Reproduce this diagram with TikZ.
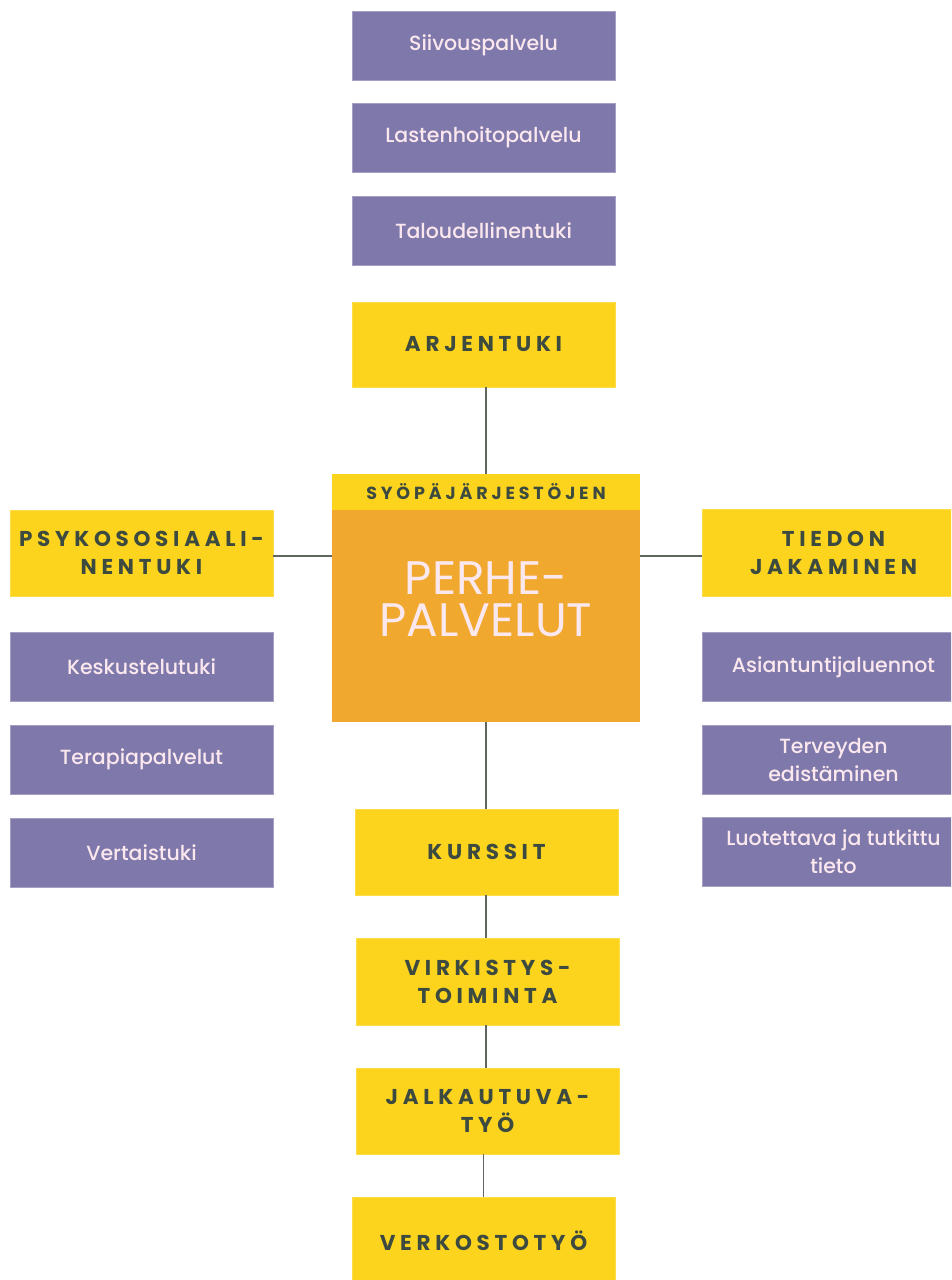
\documentclass[tikz,border=0pt]{standalone}
\usepackage{fontspec}
\setmainfont{Poppins}[UprightFont={* Medium}, BoldFont={* Bold}]
\newfontfamily\ttlfont{Poppins}[LetterSpace=22, BoldFont={* Bold}]
\newfontfamily\regfont{Poppins}
\definecolor{purp}{RGB}{127,120,170}
\definecolor{yel}{RGB}{252,212,30}
\definecolor{orng}{RGB}{240,168,46}
\definecolor{dtxt}{RGB}{60,74,64}
\definecolor{ltxt}{RGB}{251,232,238}
\definecolor{lin}{RGB}{94,102,94}
\tikzset{
  box/.style={rectangle, inner sep=0pt, minimum width=263pt, align=center},
  pbox/.style={box, fill=purp, draw=purp!70!white, line width=0.6pt, minimum height=69pt, text=ltxt, font=\fontsize{20.5}{28}\selectfont},
  ybox/.style={box, fill=yel, draw=yel!80!white, line width=0.6pt, minimum height=86pt, text=dtxt, font=\ttlfont\bfseries\fontsize{21.5}{28}\selectfont},
  bigtitle/.style={inner sep=0pt, text=ltxt, font=\regfont\fontsize{47}{42}\selectfont},
  conn/.style={draw=lin, line width=1.4pt}
}
\begin{document}
\begin{tikzpicture}[x=1pt,y=-1pt]
\useasboundingbox (0,0) rectangle (951,1280);
\clip (0,0) rectangle (951,1280);
% top column
\node[pbox] (s1) at (483.5,45.5) {Siivouspalvelu};
\node[pbox] (s2) at (483.5,137.5) {Lastenhoitopalvelu};
\node[pbox] (s3) at (483.5,230.5) {Taloudellinentuki};
\node[ybox, minimum height=85pt] (arj) at (483.5,344.5) {ARJENTUKI};
% center
\node[rectangle, inner sep=0pt, minimum width=308pt, minimum height=212pt, fill=orng] (orange) at (486,616) {};
\node[rectangle, inner sep=0pt, minimum width=308pt, minimum height=36pt, fill=yel, text=dtxt, font=\ttlfont\bfseries\fontsize{17.5}{18}\selectfont] (strip) at (486,492) {SYÖPÄJÄRJESTÖJEN};
\node[bigtitle] (title1) at (486,578) {PERHE-};
\node[bigtitle] (title2) at (486,620) {PALVELUT};
\coordinate (hub) at (486,556);
% left
\node[ybox] (psy) at (141.5,553) {PSYKOSOSIAALI-\\NENTUKI};
\node[pbox] (kes) at (141.5,667) {Keskustelutuki};
\node[pbox] (ter) at (141.5,759.5) {Terapiapalvelut};
\node[pbox] (ver) at (141.5,852.5) {Vertaistuki};
% right
\node[ybox, minimum height=87pt] (tie) at (833.5,552.5) {TIEDON\\JAKAMINEN};
\node[pbox] (asi) at (833.5,667) {Asiantuntijaluennot};
\node[pbox] (terv) at (833.5,759.5) {Terveyden\\edistäminen};
\node[pbox] (luo) at (833.5,852) {Luotettava ja tutkittu\\tieto};
% bottom column
\node[ybox] (kur) at (486.5,852) {KURSSIT};
\node[ybox, minimum height=87pt] (vir) at (487.5,981.5) {VIRKISTYS-\\TOIMINTA};
\node[ybox] (jal) at (487.5,1111) {JALKAUTUVA-\\TYÖ};
\node[ybox, minimum height=88pt] (verk) at (483.5,1241) {VERKOSTOTYÖ};
% connectors
\draw[conn] (arj.south -| strip.north) -- (strip.north);
\draw[conn] (psy.east |- hub) -- (hub -| orange.west);
\draw[conn] (hub -| orange.east) -- (tie.west |- hub);
\draw[conn] (orange.south) -- (orange.south |- kur.north);
\draw[conn] (kur.south -| orange.south) -- (vir.north -| orange.south);
\draw[conn] (vir.south -| orange.south) -- (jal.north -| orange.south);
\draw[conn] (jal.south -| verk.north) -- (verk.north);
\end{tikzpicture}
\end{document}
